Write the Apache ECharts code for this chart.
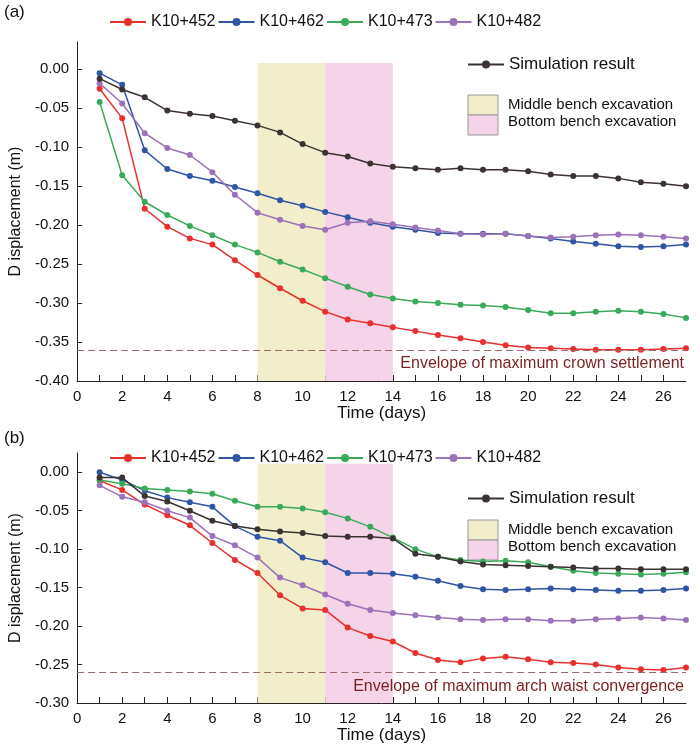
<!DOCTYPE html>
<html>
<head>
<meta charset="utf-8">
<script src="https://cdn.jsdelivr.net/npm/echarts@6/dist/echarts.min.js"></script>
<style>html,body{margin:0;padding:0;background:#fff}#main{width:700px;height:756px}</style>
</head>
<body>
<div id="main"></div>
<script>
var days = [];
for (var d = 1; d <= 27; d++) days.push(d);

// panel (a) crown settlement
var aRed = [-0.025,-0.063,-0.179,-0.202,-0.217,-0.225,-0.245,-0.264,-0.281,-0.297,-0.311,-0.321,-0.326,-0.331,-0.336,-0.341,-0.345,-0.350,-0.354,-0.357,-0.358,-0.359,-0.360,-0.360,-0.360,-0.359,-0.358];
var aBlue = [-0.005,-0.020,-0.104,-0.128,-0.137,-0.143,-0.151,-0.159,-0.168,-0.175,-0.183,-0.190,-0.197,-0.202,-0.206,-0.210,-0.211,-0.211,-0.211,-0.214,-0.217,-0.221,-0.224,-0.227,-0.228,-0.227,-0.225];
var aGreen = [-0.042,-0.136,-0.170,-0.187,-0.201,-0.213,-0.225,-0.235,-0.247,-0.257,-0.268,-0.279,-0.289,-0.294,-0.298,-0.300,-0.302,-0.303,-0.305,-0.309,-0.313,-0.313,-0.311,-0.310,-0.311,-0.314,-0.319];
var aPurple = [-0.018,-0.044,-0.082,-0.101,-0.110,-0.132,-0.161,-0.184,-0.193,-0.201,-0.206,-0.197,-0.195,-0.199,-0.203,-0.207,-0.211,-0.212,-0.211,-0.214,-0.216,-0.215,-0.213,-0.212,-0.213,-0.215,-0.217];
var aSim = [-0.012,-0.026,-0.036,-0.053,-0.057,-0.060,-0.066,-0.072,-0.081,-0.096,-0.107,-0.112,-0.121,-0.125,-0.127,-0.129,-0.127,-0.129,-0.129,-0.131,-0.135,-0.137,-0.137,-0.140,-0.145,-0.147,-0.150];
var aEnvelope = -0.365;

// panel (b) arch waist convergence
var bRed = [-0.011,-0.023,-0.042,-0.056,-0.069,-0.092,-0.114,-0.131,-0.160,-0.177,-0.179,-0.202,-0.213,-0.220,-0.235,-0.244,-0.247,-0.242,-0.240,-0.243,-0.247,-0.248,-0.250,-0.254,-0.256,-0.257,-0.254];
var bBlue = [0.000,-0.010,-0.024,-0.033,-0.039,-0.045,-0.070,-0.084,-0.089,-0.111,-0.117,-0.131,-0.131,-0.132,-0.136,-0.141,-0.148,-0.152,-0.153,-0.152,-0.151,-0.152,-0.153,-0.154,-0.154,-0.153,-0.151];
var bGreen = [-0.010,-0.015,-0.021,-0.023,-0.025,-0.028,-0.037,-0.045,-0.045,-0.047,-0.052,-0.060,-0.071,-0.085,-0.100,-0.110,-0.114,-0.116,-0.115,-0.117,-0.123,-0.128,-0.131,-0.132,-0.133,-0.132,-0.130];
var bPurple = [-0.017,-0.032,-0.039,-0.050,-0.059,-0.083,-0.095,-0.111,-0.137,-0.147,-0.159,-0.171,-0.179,-0.183,-0.186,-0.189,-0.191,-0.192,-0.191,-0.191,-0.193,-0.193,-0.191,-0.190,-0.189,-0.190,-0.192];
var bSim = [-0.007,-0.007,-0.031,-0.038,-0.050,-0.063,-0.070,-0.074,-0.077,-0.079,-0.083,-0.084,-0.084,-0.086,-0.106,-0.110,-0.116,-0.120,-0.121,-0.122,-0.123,-0.124,-0.125,-0.125,-0.126,-0.126,-0.126];
var bEnvelope = -0.26;

var names = ['K10+452', 'K10+462', 'K10+473', 'K10+482', 'Simulation result'];
var colors = ['#e8302f', '#2f55a4', '#3aaa5a', '#9b72b8', '#3b3331'];
var middleBench = [8, 11];
var bottomBench = [11, 14];

var FONT = 'Liberation Sans';

function pairs(vals) {
  return vals.map(function (v, i) { return [days[i], v]; });
}

function mkSeries(idx, vals, k, env, envText, shadeTop) {
  var s = {
    name: names[k], type: 'line', xAxisIndex: idx, yAxisIndex: idx,
    data: pairs(vals), symbol: 'circle', symbolSize: 6,
    lineStyle: { width: 1.5, color: colors[k] }, itemStyle: { color: colors[k] },
    z: 3
  };
  if (k === 0) {
    s.markArea = {
      silent: true,
      data: [
        [{ xAxis: middleBench[0], yAxis: shadeTop, itemStyle: { color: '#f2eecc' } }, { xAxis: middleBench[1], yAxis: -1 }],
        [{ xAxis: bottomBench[0], yAxis: shadeTop, itemStyle: { color: '#f5d3e8' } }, { xAxis: bottomBench[1], yAxis: -1 }]
      ]
    };
    s.markLine = {
      silent: true, symbol: 'none',
      lineStyle: { type: [7, 4], color: '#9a6a6a', width: 1.2 },
      label: { position: 'insideEndBottom', formatter: envText, color: '#7b1f1f', fontSize: 16, fontFamily: FONT, distance: [2, 6] },
      data: [{ yAxis: env }]
    };
  }
  return s;
}

function yAxisDef(idx, min, max) {
  return {
    type: 'value', gridIndex: idx, min: min, max: max, interval: 0.05,
    name: 'D isplacement (m)', nameLocation: 'middle', nameGap: 52,
    nameTextStyle: { fontSize: 16, color: '#111', fontFamily: FONT },
    axisLine: { show: true, lineStyle: { color: '#222' } },
    axisTick: { show: true, inside: true, lineStyle: { color: '#222' } },
    splitLine: { show: false },
    axisLabel: {
      showMaxLabel: false, fontSize: 15, color: '#111', fontFamily: FONT,
      formatter: function (v) { return v.toFixed(2); }
    }
  };
}

function xAxisDef(idx) {
  return {
    type: 'value', gridIndex: idx, min: 0, max: 27, interval: 1,
    name: 'Time (days)', nameLocation: 'middle', nameGap: 24,
    nameTextStyle: { fontSize: 17, color: '#111', fontFamily: FONT },
    axisLine: { show: true, onZero: false, lineStyle: { color: '#222' } },
    axisTick: { show: true, inside: true, length: 6, lineStyle: { color: '#222' } },
    splitLine: { show: false },
    axisLabel: {
      fontSize: 15, color: '#111', fontFamily: FONT, showMaxLabel: false,
      formatter: function (v) { return v % 2 === 0 ? String(v) : ''; }
    }
  };
}

var series = [];
var aVals = [aRed, aBlue, aGreen, aPurple, aSim];
var bVals = [bRed, bBlue, bGreen, bPurple, bSim];
for (var k = 0; k < 5; k++) series.push(mkSeries(0, aVals[k], k, aEnvelope, 'Envelope of maximum crown settlement', 0.008));
for (var k2 = 0; k2 < 5; k2++) series.push(mkSeries(1, bVals[k2], k2, bEnvelope, 'Envelope of maximum arch waist convergence', 0.011));

function benchBox(top) {
  return [
    { type: 'rect', shape: { x: 468, y: top, width: 30, height: 20 }, style: { fill: '#f2eecc', stroke: '#999', lineWidth: 1 } },
    { type: 'rect', shape: { x: 468, y: top + 20, width: 30, height: 20 }, style: { fill: '#f5d3e8', stroke: '#999', lineWidth: 1 } },
    { type: 'text', x: 508, y: top + 2, style: { text: 'Middle bench excavation', fontSize: 15, fill: '#111', fontFamily: FONT } },
    { type: 'text', x: 508, y: top + 19, style: { text: 'Bottom bench excavation', fontSize: 15, fill: '#111', fontFamily: FONT } }
  ];
}

var chart = echarts.init(document.getElementById('main'));
chart.setOption({
  animation: false,
  grid: [
    { left: 76, top: 42, width: 610, height: 339 },
    { left: 76, top: 453, width: 610, height: 250 }
  ],
  xAxis: [xAxisDef(0), xAxisDef(1)],
  yAxis: [yAxisDef(0, -0.40, 0.035), yAxisDef(1, -0.30, 0.025)],
  legend: [
    { data: names.slice(0, 4), left: 104, top: 9, itemGap: 2, itemWidth: 36, itemHeight: 10, textStyle: { fontSize: 16, fontFamily: FONT, color: '#111' } },
    { data: [names[4]], left: 462, top: 51, itemWidth: 36, itemHeight: 10, textStyle: { fontSize: 17, fontFamily: FONT, color: '#111' } },
    { data: names.slice(0, 4), left: 104, top: 445, itemGap: 2, itemWidth: 36, itemHeight: 10, textStyle: { fontSize: 16, fontFamily: FONT, color: '#111' } },
    { data: [names[4]], left: 462, top: 485, itemWidth: 36, itemHeight: 10, textStyle: { fontSize: 17, fontFamily: FONT, color: '#111' } }
  ],
  graphic: [
    { type: 'text', left: 4, top: 4, style: { text: '(a)', fontSize: 17, fill: '#111', fontFamily: FONT } },
    { type: 'text', left: 4, top: 430, style: { text: '(b)', fontSize: 17, fill: '#111', fontFamily: FONT } }
  ].concat(benchBox(95)).concat(benchBox(520)),
  series: series
});
</script>
</body>
</html>
